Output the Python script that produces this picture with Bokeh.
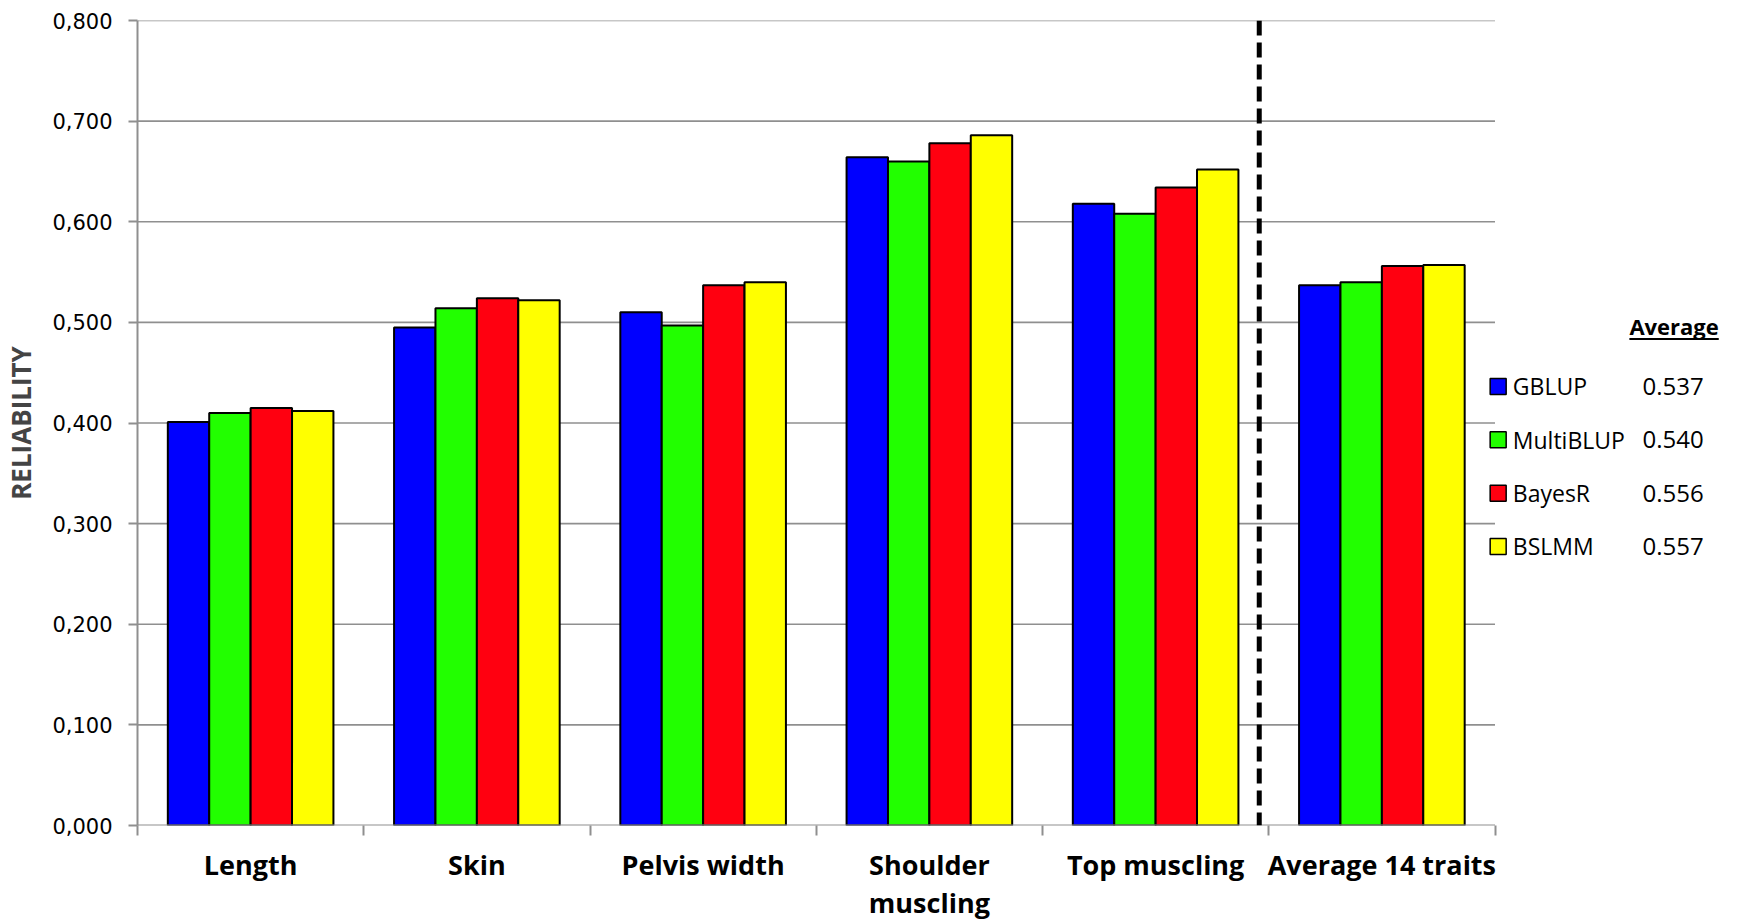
from bokeh.plotting import figure
from bokeh.models import FixedTicker, CustomJSTickFormatter, Span, Range1d
from bokeh.core.properties import value
from bokeh.embed import file_html
from bokeh.resources import INLINE

categories = ["Length", "Skin", "Pelvis width", "Shoulder\nmuscling", "Top muscling", "Average 14 traits"]
methods = ["GBLUP", "MultiBLUP", "BayesR", "BSLMM"]
gblup = [0.401, 0.495, 0.510, 0.664, 0.618, 0.537]
multiblup = [0.410, 0.514, 0.497, 0.660, 0.608, 0.540]
bayesr = [0.415, 0.524, 0.537, 0.678, 0.634, 0.556]
bslmm = [0.412, 0.522, 0.540, 0.686, 0.652, 0.557]
average_values = [0.537, 0.540, 0.556, 0.557]
y_ticks = [0.0, 0.1, 0.2, 0.3, 0.4, 0.5, 0.6, 0.7, 0.8]

colors = ["#0000FF", "#22FF00", "#FF0010", "#FFFF00"]
series = [gblup, multiblup, bayesr, bslmm]
offsets = [-0.2745, -0.0915, 0.0915, 0.2745]
bar_w = 0.183
n = len(categories)
GRID = "#8f8f8f"

# frame covers plot area plus legend area on the right
frame_w = 1588
x_end = frame_w / 226.25
p = figure(frame_width=frame_w, frame_height=805, output_backend="svg", toolbar_location=None,
           x_range=Range1d(0, x_end), y_range=Range1d(0, 0.8),
           min_border_left=133, min_border_right=0, min_border_top=20, min_border_bottom=60)
p.outline_line_color = None
p.background_fill_color = "white"
p.border_fill_color = "white"
p.xgrid.visible = False
p.ygrid.visible = False

# horizontal gridlines limited to the category area
gy = y_ticks[1:]
p.segment(x0=[0] * len(gy), x1=[n] * len(gy), y0=gy, y1=gy,
          line_color=GRID, line_width=1.6, level="underlay")

renderers = []
for vals, col, off in zip(series, colors, offsets):
    xs = [i + 0.5 + off for i in range(n)]
    r = p.vbar(x=xs, top=vals, width=bar_w, bottom=0, fill_color=col,
               line_color="black", line_width=2)
    renderers.append(r)

# x axis baseline across the category area
p.segment(x0=[0], x1=[n], y0=[0], y1=[0], line_color=GRID, line_width=2)

# y axis
p.yaxis.ticker = FixedTicker(ticks=y_ticks, minor_ticks=[])
p.yaxis.formatter = CustomJSTickFormatter(code="return tick.toFixed(3).replace('.', ',');")
p.yaxis.axis_line_color = GRID
p.yaxis.axis_line_width = 2
p.yaxis.major_tick_line_color = GRID
p.yaxis.major_tick_line_width = 2
p.yaxis.major_tick_out = 9
p.yaxis.major_tick_in = 0
p.yaxis.major_label_standoff = 16
p.yaxis.major_label_text_font = "DejaVu Sans"
p.yaxis.major_label_text_font_size = "21px"
p.yaxis.major_label_text_color = "black"
p.yaxis.axis_label = "RELIABILITY"
p.yaxis.axis_label_text_font = "Open Sans"
p.yaxis.axis_label_text_font_style = "bold"
p.yaxis.axis_label_text_font_size = "26px"
p.yaxis.axis_label_standoff = 10

# x axis
p.xaxis.ticker = FixedTicker(ticks=[i + 0.5 for i in range(n)], minor_ticks=list(range(n + 1)))
p.xaxis.formatter = CustomJSTickFormatter(args=dict(labels=categories),
                                          code="return labels[Math.floor(tick)];")
p.xaxis.axis_line_color = None
p.xaxis.major_tick_line_color = None
p.xaxis.major_tick_out = 0
p.xaxis.major_tick_in = 0
p.xaxis.minor_tick_line_color = GRID
p.xaxis.minor_tick_line_width = 2
p.xaxis.minor_tick_out = 10
p.xaxis.minor_tick_in = 0
p.xaxis.major_label_standoff = 10
p.xaxis.major_label_text_font = "Open Sans"
p.xaxis.major_label_text_font_style = "bold"
p.xaxis.major_label_text_font_size = "27px"
p.xaxis.major_label_text_line_height = 1.05
p.xaxis.major_label_text_color = "black"

# dashed separator
p.add_layout(Span(location=4.958, dimension="height", line_color="black",
                  line_width=5, line_dash="15 7"))

# legend (drawn in the right part of the frame)
leg_top = 0.4363
pitch = 0.053
leg_y = [leg_top - i * pitch for i in range(len(methods))]
p.scatter(x=[6.014] * len(methods), y=leg_y, marker="square", size=16,
          fill_color=colors, line_color="black", line_width=1.5)
p.text(x=[6.0787] * len(methods), y=leg_y, text=methods, text_font=value("Open Sans"),
       text_font_size="23px", text_align="left", text_baseline="middle", text_color="black")
p.text(x=[6.652] * len(methods), y=leg_y, text=[f"{v:.3f}" for v in average_values],
       text_font=value("Open Sans"), text_font_size="24px", text_align="left",
       text_baseline="middle", text_color="black")
p.text(x=[6.594], y=[0.4964], text=["Average"], text_font=value("Open Sans"),
       text_font_style="bold", text_font_size="22px", text_align="left",
       text_baseline="middle", text_color="black")
p.segment(x0=[6.594], x1=[6.989], y0=[0.4836], y1=[0.4836], line_color="black", line_width=2)

open("out.html", "w").write(file_html(p, INLINE))
